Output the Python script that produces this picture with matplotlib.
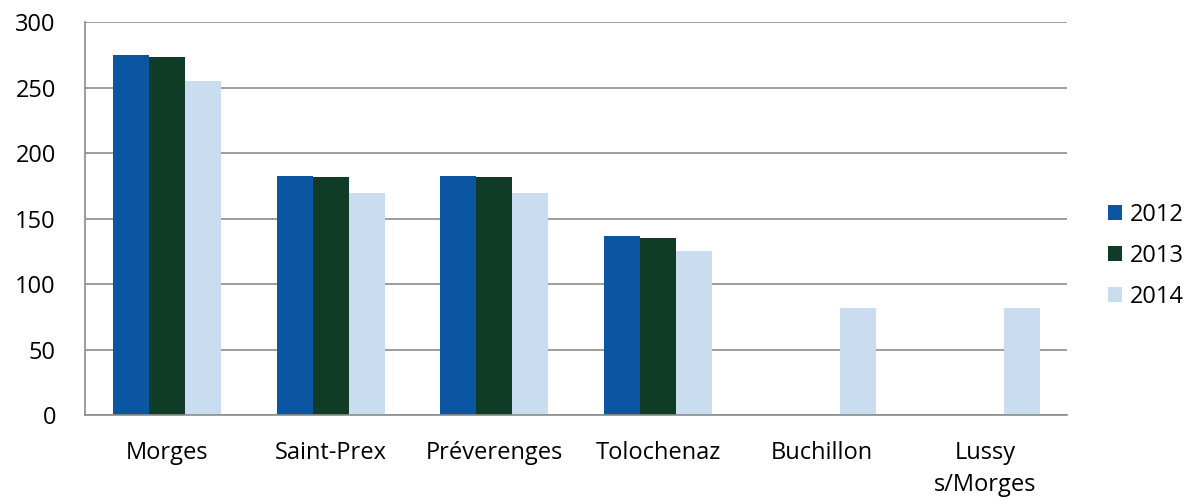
import numpy as np
import matplotlib.pyplot as plt

plt.rcParams['font.family'] = ['Open Sans', 'DejaVu Sans']

communes = ['Morges', 'Saint-Prex', 'Préverenges', 'Tolochenaz', 'Buchillon', 'Lussy\ns/Morges']
years = ['2012', '2013', '2014']
v2012 = [275, 183, 183, 137, 0, 0]
v2013 = [274, 182, 182, 135, 0, 0]
v2014 = [255, 170, 170, 125, 82, 82]
colors = ['#0a56a3', '#0f3b27', '#cadcef']

fig = plt.figure(figsize=(11.98, 5), dpi=100)
ax = fig.add_axes([0.071, 0.17, 0.82, 0.785])

x = np.arange(len(communes))
w = 0.22
for i, (vals, lab) in enumerate(zip([v2012, v2013, v2014], years)):
    ax.bar(x + (i - 1) * w, vals, width=w, color=colors[i], label=lab, zorder=2)

ax.set_xlim(-0.5, len(communes) - 0.5)
ax.set_ylim(0, 300)
ax.set_yticks(range(0, 301, 50))
ax.yaxis.grid(True, color='#8c8c8c', linewidth=1.2, zorder=0)
ax.set_xticks(x)
ax.set_xticklabels(communes, fontsize=17, linespacing=1.45)
ax.tick_params(axis='y', labelsize=17, length=0, pad=21)
ax.tick_params(axis='x', length=0, pad=19)
for s in ['top', 'right']:
    ax.spines[s].set_visible(False)
ax.spines['left'].set_color('#8c8c8c')
ax.spines['bottom'].set_color('#8c8c8c')
ax.spines['left'].set_linewidth(1.2)
ax.spines['bottom'].set_linewidth(1.2)

ax.legend(loc='center left', bbox_to_anchor=(1.032, 0.405), frameon=False, fontsize=17,
          borderaxespad=0, handlelength=0.6, handleheight=0.6, handletextpad=0.3,
          labelspacing=0.72)

fig.savefig('out.png', dpi=100)
